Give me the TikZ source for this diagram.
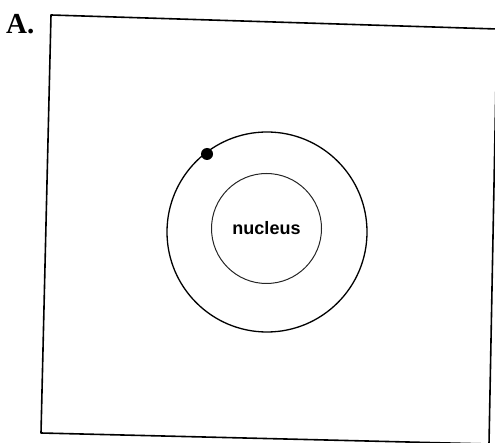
\documentclass[tikz,border=0pt]{standalone}
\usepackage{fontspec}
\setmainfont{Liberation Serif}
\setsansfont{Liberation Sans}
\begin{document}
\begin{tikzpicture}[x=1pt,y=-1pt,line cap=round,line join=round]
  \useasboundingbox (0,0) rectangle (495,443);
  \draw[line width=1.6pt] (51,15) -- (497,29) -- (489,444) -- (41,433) -- cycle;
  \node[anchor=north west,inner sep=0pt,font=\fontsize{29}{32}\selectfont\bfseries] (label) at (6,14) {A.};
  \draw[line width=1.3pt] (267,232) circle (100);
  \node[circle,draw=black!85,line width=1pt,minimum size=110pt,inner sep=0pt,
        font=\sffamily\bfseries\fontsize{18}{21}\selectfont] (nucleus) at (266.5,228.5) {nucleus};
  \node[circle,fill=black,minimum size=12pt,inner sep=0pt] (electron) at (207,154) {};
\end{tikzpicture}
\end{document}
